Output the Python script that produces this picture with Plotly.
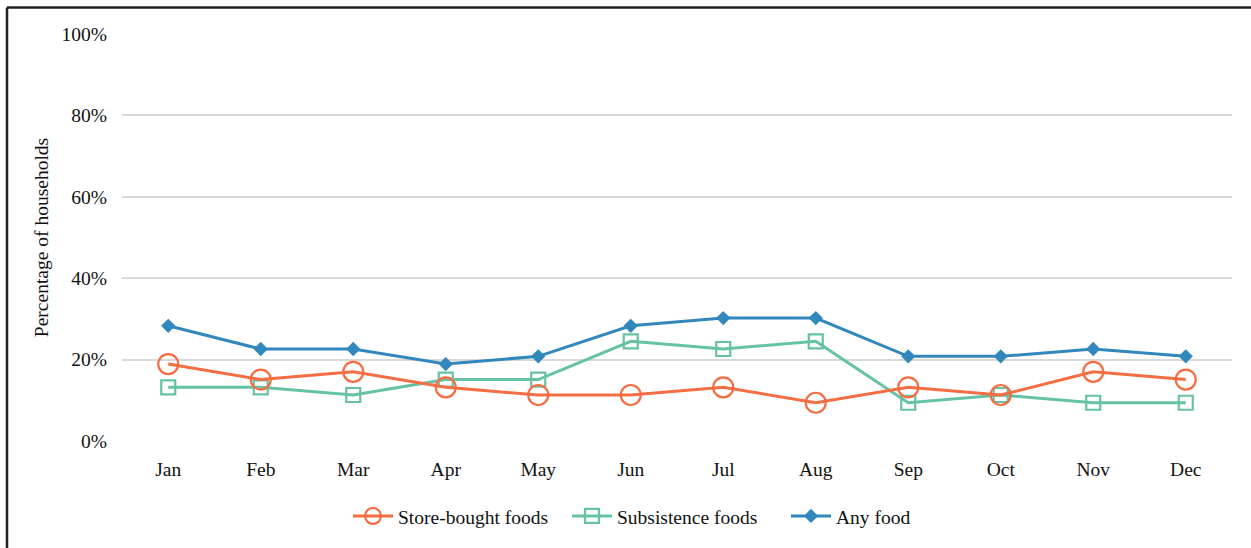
import plotly.graph_objects as go

months = ["Jan", "Feb", "Mar", "Apr", "May", "Jun", "Jul", "Aug", "Sep", "Oct", "Nov", "Dec"]

# Share of households (out of 53) reporting each type of food
store_bought = [0.189, 0.151, 0.170, 0.132, 0.113, 0.113, 0.132, 0.094, 0.132, 0.113, 0.170, 0.151]
subsistence = [0.132, 0.132, 0.113, 0.151, 0.151, 0.245, 0.226, 0.245, 0.094, 0.113, 0.094, 0.094]
any_food = [0.283, 0.226, 0.226, 0.189, 0.208, 0.283, 0.302, 0.302, 0.208, 0.208, 0.226, 0.208]

W, H = 1251, 548
ML, MR, MT, MB = 122, 19, 34, 107

FAMILY = "Times New Roman, Liberation Serif, serif"
FS = 19.5

fig = go.Figure()

fig.add_trace(go.Scatter(
    x=months, y=any_food, name="Any food", mode="lines+markers",
    line=dict(color="#3288BD", width=3),
    marker=dict(symbol="diamond", size=11, color="#3288BD"),
))
fig.add_trace(go.Scatter(
    x=months, y=subsistence, name="Subsistence foods", mode="lines+markers",
    line=dict(color="#66C2A5", width=3),
    marker=dict(symbol="square-open", size=14, color="#66C2A5", line=dict(width=2.2)),
))
fig.add_trace(go.Scatter(
    x=months, y=store_bought, name="Store-bought foods", mode="lines+markers",
    line=dict(color="#F46D43", width=3),
    marker=dict(symbol="circle-open", size=20, color="#F46D43", line=dict(width=2.2)),
))

# Frame around the chart (top and left edges)
px_x = lambda p: (p - ML) / (W - ML - MR)
px_y = lambda p: (H - MB - p) / (H - MT - MB)
shapes = [
    dict(type="line", xref="paper", yref="paper", x0=px_x(7), x1=px_x(1260), y0=px_y(7.5), y1=px_y(7.5),
         line=dict(color="#222222", width=2.5)),
    dict(type="line", xref="paper", yref="paper", x0=px_x(7), x1=px_x(7), y0=px_y(7.5), y1=px_y(560),
         line=dict(color="#222222", width=2.5)),
]

text_font = dict(family=FAMILY, size=FS, color="#111111")

fig.update_layout(
    width=W, height=H,
    margin=dict(l=ML, r=MR, t=MT, b=MB),
    paper_bgcolor="white", plot_bgcolor="white",
    font=text_font,
    showlegend=True,
    legend=dict(orientation="h", x=px_x(348), xanchor="left", y=-0.185, yanchor="middle",
                traceorder="reversed", font=text_font, itemwidth=40,
                entrywidth=164, entrywidthmode="pixels"),
    xaxis=dict(showgrid=False, showline=False, ticks="", zeroline=False,
               range=[-0.5, 11.5], tickfont=text_font, ticklabelstandoff=14),
    yaxis=dict(range=[0, 1], tickvals=[0, 0.2, 0.4, 0.6, 0.8, 1.0], tickformat=".0%",
               showgrid=True, gridcolor="#D9D9D9", gridwidth=1.5, zeroline=False,
               showline=False, ticks="", tickfont=text_font, ticklabelstandoff=14,
               title=dict(text="Percentage of households", font=text_font, standoff=7)),
    shapes=shapes,
)

fig.write_html("out.html")
